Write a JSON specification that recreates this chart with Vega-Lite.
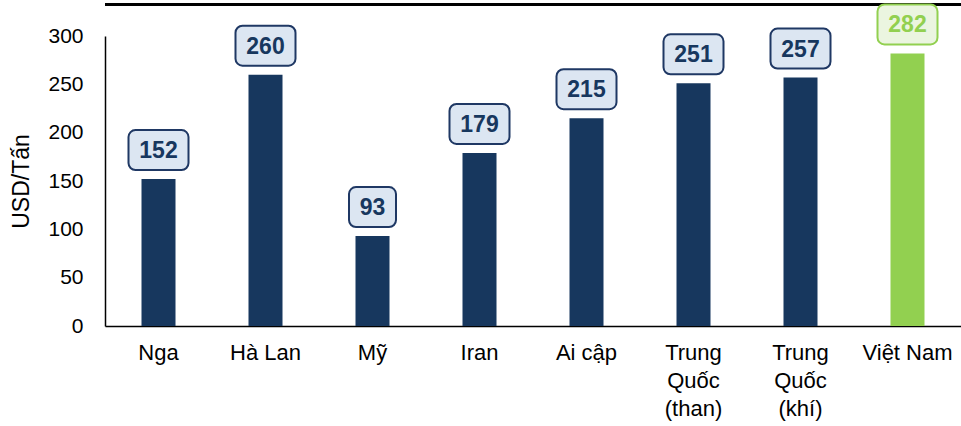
{
  "$schema": "https://vega.github.io/schema/vega-lite/v6.json",
  "width": 856,
  "height": 290,
  "autosize": {"type": "none"},
  "padding": {"left": 105, "top": 36, "right": 0, "bottom": 100},
  "background": "white",
  "config": {
    "view": {"stroke": null},
    "font": "Liberation Sans"
  },
  "datasets": {
    "prices": [
      {"country": "Nga", "value": 152, "group": "other"},
      {"country": "Hà Lan", "value": 260, "group": "other"},
      {"country": "Mỹ", "value": 93, "group": "other"},
      {"country": "Iran", "value": 179, "group": "other"},
      {"country": "Ai cập", "value": 215, "group": "other"},
      {"country": "Trung|Quốc|(than)", "value": 251, "group": "other"},
      {"country": "Trung|Quốc|(khí)", "value": 257, "group": "other"},
      {"country": "Việt Nam", "value": 282, "group": "vn"}
    ],
    "topline": [{"level": 332.6}]
  },
  "layer": [
    {
      "data": {"name": "topline"},
      "mark": {"type": "rule", "stroke": "#000000", "strokeWidth": 3},
      "encoding": {"y": {"field": "level", "type": "quantitative", "scale": {"domain": [0, 300], "nice": false}}}
    },
    {
      "data": {"name": "prices"},
      "layer": [
        {
          "mark": {"type": "bar", "width": 34},
          "encoding": {
            "x": {
              "field": "country",
              "type": "nominal",
              "sort": null,
              "scale": {"paddingInner": 0, "paddingOuter": 0},
              "axis": {
                "title": null,
                "labelAngle": 0,
                "labelExpr": "split(datum.label, '|')",
                "labelFontSize": 22,
                "labelColor": "#000000",
                "labelLineHeight": 28,
                "labelPadding": 16,
                "ticks": false,
                "tickSize": 0,
                "domainColor": "#000000",
                "domainWidth": 1.5,
                "labelFont": "Liberation Sans"
              }
            },
            "y": {
              "field": "value",
              "type": "quantitative",
              "scale": {"domain": [0, 300], "nice": false},
              "axis": {
                "title": "USD/Tấn",
                "titleFontSize": 23,
                "titleFontWeight": "normal",
                "titleColor": "#000000",
                "titlePadding": 14,
                "titleFont": "Liberation Sans",
                "values": [0, 50, 100, 150, 200, 250, 300],
                "labelFontSize": 21,
                "labelColor": "#000000",
                "labelPadding": 22,
                "labelFont": "Liberation Sans",
                "ticks": false,
                "tickSize": 0,
                "grid": false,
                "domainColor": "#000000",
                "domainWidth": 1.5
              }
            },
            "color": {
              "field": "group",
              "type": "nominal",
              "scale": {"domain": ["other", "vn"], "range": ["#17375E", "#92D050"]},
              "legend": null
            }
          }
        },
        {
          "mark": {"type": "bar", "cornerRadius": 7, "strokeWidth": 2, "yOffset": -49, "y2Offset": -9},
          "encoding": {
            "x": {"field": "country", "type": "nominal", "sort": null},
            "y": {"field": "value", "type": "quantitative"},
            "y2": {"field": "value"},
            "size": {"condition": {"test": "datum.value < 100", "value": 47}, "value": 60},
            "fill": {
              "field": "group",
              "type": "nominal",
              "scale": {"domain": ["other", "vn"], "range": ["#DCE6F2", "#EBF5E0"]},
              "legend": null
            },
            "stroke": {
              "field": "group",
              "type": "nominal",
              "scale": {"domain": ["other", "vn"], "range": ["#1F3864", "#92D050"]},
              "legend": null
            }
          }
        },
        {
          "mark": {"type": "text", "fontSize": 23, "fontWeight": "bold", "baseline": "middle", "align": "center", "dy": -28, "font": "Liberation Sans"},
          "encoding": {
            "x": {"field": "country", "type": "nominal", "sort": null},
            "y": {"field": "value", "type": "quantitative"},
            "text": {"field": "value", "type": "quantitative"},
            "color": {
              "field": "group",
              "type": "nominal",
              "scale": {"domain": ["other", "vn"], "range": ["#17375E", "#92D050"]},
              "legend": null
            }
          }
        }
      ]
    }
  ]
}
